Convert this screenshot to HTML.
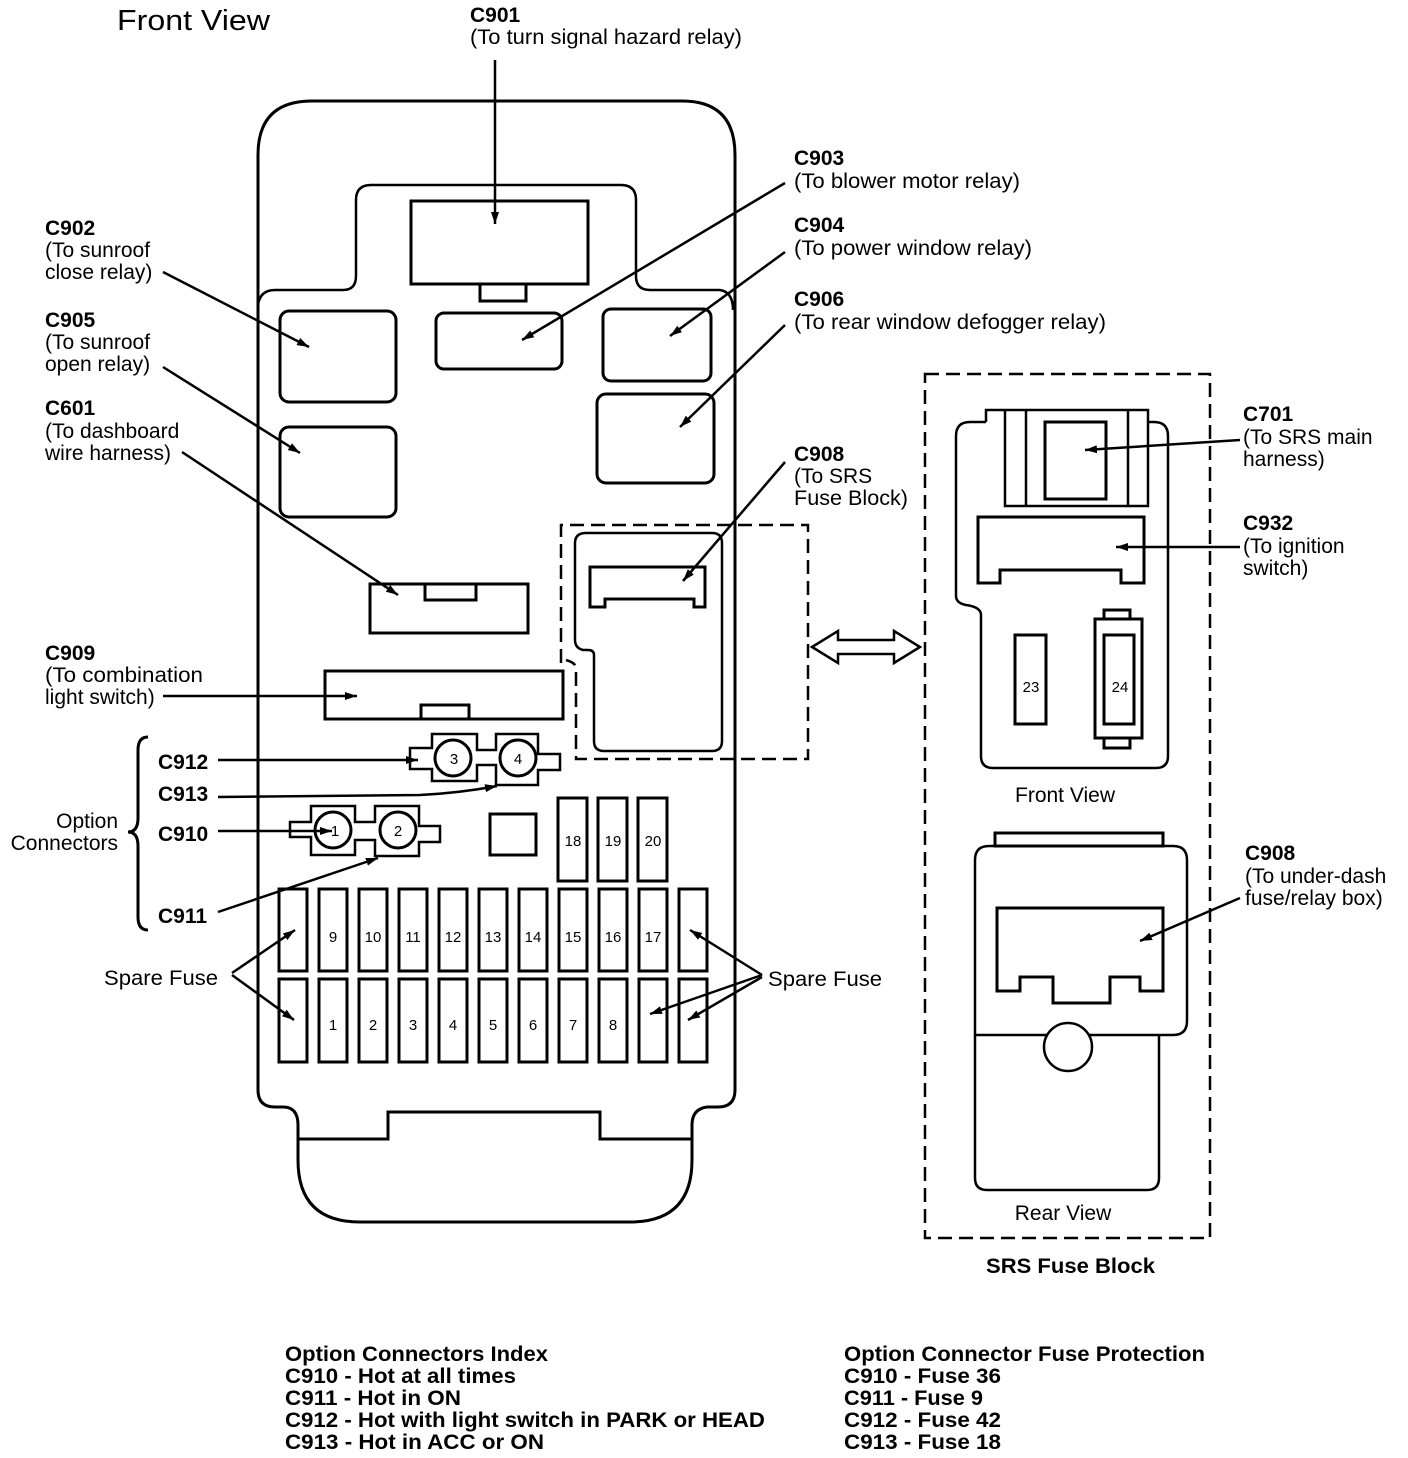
<!DOCTYPE html>
<html><head><meta charset="utf-8"><style>
html,body{margin:0;padding:0;background:#fff;}
svg{display:block;}
text{font-family:"Liberation Sans",Arial,sans-serif;fill:#000;}
.b{font-weight:bold;font-size:21px;}
.n{font-size:21px;}
.s{font-size:15px;}
</style></head><body>
<svg width="1408" height="1458" viewBox="0 0 1408 1458" xmlns="http://www.w3.org/2000/svg">
<defs>
<marker id="a" viewBox="0 0 12 8" refX="12" refY="4" markerWidth="12" markerHeight="8" markerUnits="userSpaceOnUse" orient="auto"><path d="M0,0 L12,4 L0,8 Z" fill="#000"/></marker>
</defs>
<g fill="none" stroke="#000" stroke-width="3">
<path d="M258 1090 L258 155 Q258 101 312 101 L682 101 Q735 101 735 155 L735 1090 Q735 1107 718 1107 L707 1107 Q692 1109 692 1125 L692 1160 Q692 1222 630 1222 L360 1222 Q298 1222 298 1160 L298 1125 Q298 1107 283 1107 L275 1107 Q258 1107 258 1090 Z"/>
<path d="M298 1139 L388 1139 L388 1112 L600 1112 L600 1139 L692 1139"/>
<path d="M258 305 Q260 290 275 290 L343 290 Q356 290 356 276 L356 200 Q356 185 371 185 L621 185 Q636 185 636 200 L636 276 Q636 290 650 290 L720 290 Q733 292 733 310" stroke-width="2.5"/>
<rect x="411" y="201" width="177" height="83"/>
<rect x="480" y="284" width="46" height="17"/>
<rect x="280" y="311" width="116" height="91" rx="9"/>
<rect x="436" y="313" width="126" height="56" rx="8"/>
<rect x="603" y="309" width="108" height="72" rx="8"/>
<rect x="597" y="394" width="117" height="89" rx="9"/>
<rect x="280" y="427" width="116" height="90" rx="9"/>
<rect x="370" y="584" width="158" height="49"/>
<path d="M425 584 V600 H476 V584"/>
<rect x="325" y="671" width="238" height="48"/>
<path d="M421 719 V705 H469 V719"/>
<path d="M561 663 V525 H808 V759 H576 V668 Q576 663 566 660" stroke-dasharray="14,7" stroke-width="2.5"/>
<path d="M586 533 H712 Q722 533 722 543 V741 Q722 751 712 751 H604 Q594 751 594 741 V655 Q594 650 588 650 H583 Q575 648 575 640 V543 Q575 533 586 533 Z" stroke-width="2.5"/>
<path d="M590 567 H705 V607 H694 V599 H605 V607 H590 Z"/>
<path d="M812 647 L838 631 V640 H894 V631 L920 647 L894 663 V654 H838 V663 Z" stroke-width="2.5"/>
<path d="M432 734 H477 V750 H496 V734 H538 V754 H560 V770 H538 V785 H496 V765 H477 V781 H432 V769 H410 V748 H432 Z" stroke-width="2.5"/>
<circle cx="453" cy="758" r="18"/><circle cx="518" cy="758" r="18"/>
<path d="M311 806 H355 V822 H375 V806 H419 V826 H440 V842 H419 V856 H375 V840 H355 V855 H311 V837 H290 V822 H311 Z" stroke-width="2.5"/>
<circle cx="333" cy="830" r="18"/><circle cx="398" cy="830" r="18"/>
<rect x="490" y="814" width="46" height="41"/>
<rect x="558" y="798" width="29" height="83"/>
<rect x="598" y="798" width="29" height="83"/>
<rect x="638" y="798" width="29" height="83"/>
<g>
<rect x="279" y="889" width="28" height="82"/><rect x="319" y="889" width="28" height="82"/><rect x="359" y="889" width="28" height="82"/><rect x="399" y="889" width="28" height="82"/><rect x="439" y="889" width="28" height="82"/><rect x="479" y="889" width="28" height="82"/><rect x="519" y="889" width="28" height="82"/><rect x="559" y="889" width="28" height="82"/><rect x="599" y="889" width="28" height="82"/><rect x="639" y="889" width="28" height="82"/><rect x="679" y="889" width="28" height="82"/>
<rect x="279" y="979" width="28" height="83"/><rect x="319" y="979" width="28" height="83"/><rect x="359" y="979" width="28" height="83"/><rect x="399" y="979" width="28" height="83"/><rect x="439" y="979" width="28" height="83"/><rect x="479" y="979" width="28" height="83"/><rect x="519" y="979" width="28" height="83"/><rect x="559" y="979" width="28" height="83"/><rect x="599" y="979" width="28" height="83"/><rect x="639" y="979" width="28" height="83"/><rect x="679" y="979" width="28" height="83"/>
</g>
<path d="M148 737 Q138 737 138 750 V818 Q138 832 128 832 Q138 832 138 846 V917 Q138 930 148 930" stroke-width="3"/>
<rect x="925" y="374" width="285" height="864" stroke-dasharray="14,7" stroke-width="2.5"/>
<path d="M986 422 H970 Q956 422 956 436 V596 Q956 603 966 605 Q981 607 981 615 V756 Q981 768 993 768 H1156 Q1168 768 1168 756 V436 Q1168 422 1154 422 H1148" stroke-width="2.5"/>
<path d="M986 422 V410 H1148 V422 M1005 410 V506 H1148 V410 M1026 410 V506 M1128 410 V506" stroke-width="2.5"/>
<rect x="1045" y="422" width="61" height="77"/>
<path d="M978 517 H1144 V583 H1121 V570 H1000 V583 H978 Z"/>
<rect x="1015" y="635" width="31" height="89"/>
<rect x="1095" y="619" width="47" height="119"/>
<rect x="1104" y="635" width="30" height="89"/>
<rect x="1104" y="610" width="26" height="9"/>
<rect x="1104" y="738" width="26" height="10"/>
<rect x="995" y="833" width="168" height="13"/>
<path d="M975 1035 V860 Q975 846 989 846 H1173 Q1187 846 1187 860 V1021 Q1187 1035 1173 1035 Z" stroke-width="2.5"/>
<path d="M975 1035 V1178 Q975 1190 987 1190 H1147 Q1159 1190 1159 1178 V1035" stroke-width="2.5"/>
<circle cx="1068" cy="1047" r="24" fill="#fff" stroke-width="2.5"/>
<path d="M997 908 H1163 V991 H1140 V977 H1110 V1003 H1053 V977 H1020 V991 H997 Z"/>
</g>
<g stroke="#000" stroke-width="2.5" fill="none" marker-end="url(#a)">
<line x1="495" y1="60" x2="495" y2="224"/>
<line x1="785" y1="183" x2="522" y2="340"/>
<line x1="785" y1="252" x2="670" y2="336"/>
<line x1="785" y1="325" x2="680" y2="427"/>
<line x1="163" y1="272" x2="309" y2="347"/>
<line x1="163" y1="367" x2="300" y2="453"/>
<line x1="182" y1="452" x2="398" y2="595"/>
<line x1="163" y1="696" x2="357" y2="696"/>
<line x1="218" y1="760" x2="418" y2="760"/>
<path d="M218 797 L420 795 Q460 793 497 786"/>
<line x1="218" y1="831" x2="332" y2="831"/>
<line x1="218" y1="912" x2="378" y2="858"/>
<line x1="785" y1="462" x2="683" y2="581"/>
<line x1="232" y1="973" x2="295" y2="930"/>
<line x1="232" y1="975" x2="294" y2="1020"/>
<line x1="762" y1="975" x2="690" y2="930"/>
<line x1="762" y1="975" x2="650" y2="1014"/>
<line x1="762" y1="977" x2="688" y2="1020"/>
<line x1="1240" y1="440" x2="1085" y2="450"/>
<line x1="1240" y1="547" x2="1116" y2="547"/>
<line x1="1240" y1="898" x2="1140" y2="941"/>
</g>
<text x="117" y="30" font-size="29" textLength="153" lengthAdjust="spacingAndGlyphs">Front View</text>
<text class="b" x="470" y="22">C901</text>
<text class="n" x="470" y="44" textLength="272" lengthAdjust="spacingAndGlyphs">(To turn signal hazard relay)</text>
<text class="b" x="794" y="165">C903</text>
<text class="n" x="794" y="188" textLength="226" lengthAdjust="spacingAndGlyphs">(To blower motor relay)</text>
<text class="b" x="794" y="232">C904</text>
<text class="n" x="794" y="255" textLength="238" lengthAdjust="spacingAndGlyphs">(To power window relay)</text>
<text class="b" x="794" y="306">C906</text>
<text class="n" x="794" y="329" textLength="312" lengthAdjust="spacingAndGlyphs">(To rear window defogger relay)</text>
<text class="b" x="794" y="461">C908</text>
<text class="n" x="794" y="483">(To SRS</text>
<text class="n" x="794" y="505" textLength="114" lengthAdjust="spacingAndGlyphs">Fuse Block)</text>
<text class="b" x="45" y="235">C902</text>
<text class="n" x="45" y="257">(To sunroof</text>
<text class="n" x="45" y="279">close relay)</text>
<text class="b" x="45" y="327">C905</text>
<text class="n" x="45" y="349">(To sunroof</text>
<text class="n" x="45" y="371">open relay)</text>
<text class="b" x="45" y="415">C601</text>
<text class="n" x="45" y="438">(To dashboard</text>
<text class="n" x="45" y="460">wire harness)</text>
<text class="b" x="45" y="660">C909</text>
<text class="n" x="45" y="682" textLength="158" lengthAdjust="spacingAndGlyphs">(To combination</text>
<text class="n" x="45" y="704">light switch)</text>
<text class="b" x="158" y="769">C912</text>
<text class="b" x="158" y="801">C913</text>
<text class="b" x="158" y="841">C910</text>
<text class="b" x="158" y="923">C911</text>
<text class="n" x="118" y="828" text-anchor="end">Option</text>
<text class="n" x="118" y="850" text-anchor="end">Connectors</text>
<text class="n" x="104" y="985" textLength="114" lengthAdjust="spacingAndGlyphs">Spare Fuse</text>
<text class="n" x="768" y="986" textLength="114" lengthAdjust="spacingAndGlyphs">Spare Fuse</text>
<g class="s" text-anchor="middle">
<text x="454" y="764">3</text><text x="518" y="764">4</text><text x="335" y="836">1</text><text x="398" y="836">2</text>
<text x="573" y="846">18</text><text x="613" y="846">19</text><text x="653" y="846">20</text>
<text x="333" y="942">9</text><text x="373" y="942">10</text><text x="413" y="942">11</text><text x="453" y="942">12</text><text x="493" y="942">13</text><text x="533" y="942">14</text><text x="573" y="942">15</text><text x="613" y="942">16</text><text x="653" y="942">17</text>
<text x="333" y="1030">1</text><text x="373" y="1030">2</text><text x="413" y="1030">3</text><text x="453" y="1030">4</text><text x="493" y="1030">5</text><text x="533" y="1030">6</text><text x="573" y="1030">7</text><text x="613" y="1030">8</text>
<text x="1031" y="692">23</text><text x="1120" y="692">24</text>
</g>
<text class="b" x="1243" y="421">C701</text>
<text class="n" x="1243" y="444">(To SRS main</text>
<text class="n" x="1243" y="466">harness)</text>
<text class="b" x="1243" y="530">C932</text>
<text class="n" x="1243" y="553">(To ignition</text>
<text class="n" x="1243" y="575">switch)</text>
<text class="b" x="1245" y="860">C908</text>
<text class="n" x="1245" y="883">(To under-dash</text>
<text class="n" x="1245" y="905">fuse/relay box)</text>
<text class="n" x="1065" y="802" text-anchor="middle">Front View</text>
<text class="n" x="1063" y="1220" text-anchor="middle">Rear View</text>
<text class="b" x="986" y="1273" textLength="169" lengthAdjust="spacingAndGlyphs">SRS Fuse Block</text>
<text class="b" x="285" y="1361" textLength="263" lengthAdjust="spacingAndGlyphs">Option Connectors Index</text>
<text class="b" x="285" y="1383" textLength="231" lengthAdjust="spacingAndGlyphs">C910 - Hot at all times</text>
<text class="b" x="285" y="1405" textLength="176" lengthAdjust="spacingAndGlyphs">C911  - Hot in ON</text>
<text class="b" x="285" y="1427" textLength="480" lengthAdjust="spacingAndGlyphs">C912 - Hot with light switch in PARK or HEAD</text>
<text class="b" x="285" y="1449" textLength="259" lengthAdjust="spacingAndGlyphs">C913 - Hot in ACC or ON</text>
<text class="b" x="844" y="1361" textLength="361" lengthAdjust="spacingAndGlyphs">Option Connector Fuse Protection</text>
<text class="b" x="844" y="1383" textLength="157" lengthAdjust="spacingAndGlyphs">C910 - Fuse 36</text>
<text class="b" x="844" y="1405" textLength="139" lengthAdjust="spacingAndGlyphs">C911  - Fuse 9</text>
<text class="b" x="844" y="1427" textLength="157" lengthAdjust="spacingAndGlyphs">C912 - Fuse 42</text>
<text class="b" x="844" y="1449" textLength="157" lengthAdjust="spacingAndGlyphs">C913 - Fuse 18</text>
</svg>
</body></html>
